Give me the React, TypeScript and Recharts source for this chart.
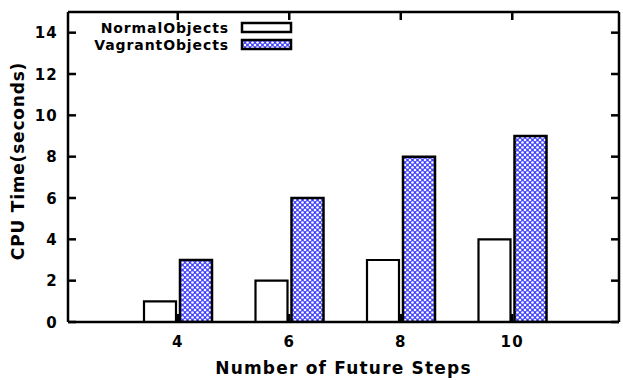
import React from 'react';
import { BarChart, Bar, XAxis, YAxis } from 'recharts';

// data
const steps = ['4', '6', '8', '10'];
const normalObjects = [1, 2, 3, 4];
const vagrantObjects = [3, 6, 8, 9];
const yTicks = [0, 2, 4, 6, 8, 10, 12, 14];

const data = steps.map((s, i) => ({
  step: s,
  normal: normalObjects[i],
  vagrant: vagrantObjects[i],
}));

const FONT = '"DejaVu Sans", Verdana, sans-serif';
const AXIS = { stroke: '#000', strokeWidth: 2.5 };
const TICK_LEN = 8;

const LeftTick = ({ x, y, payload }: any) => (
  <g>
    <line x1={x} x2={x + TICK_LEN} y1={y} y2={y} stroke="#000" strokeWidth={2.5} />
    <text x={x - 10} y={y} dy={5.5} textAnchor="end" fontFamily={FONT} fontWeight="bold" fontSize={15} letterSpacing={1.2} fill="#000">
      {payload.value}
    </text>
  </g>
);

const RightTick = ({ x, y }: any) => (
  <line x1={x} x2={x - TICK_LEN} y1={y} y2={y} stroke="#000" strokeWidth={2.5} />
);

const BottomTick = ({ x, y, payload }: any) => (
  <g>
    <line x1={x} x2={x} y1={y} y2={y - TICK_LEN} stroke="#000" strokeWidth={2.5} />
    <text x={x} y={y + 25} textAnchor="middle" fontFamily={FONT} fontWeight="bold" fontSize={15} letterSpacing={1.2} fill="#000">
      {payload.value}
    </text>
  </g>
);

const TopTick = ({ x, y }: any) => (
  <line x1={x} x2={x} y1={y} y2={y + TICK_LEN} stroke="#000" strokeWidth={2.5} />
);

const PatternDef = ({ id }: { id: string }) => (
  <pattern id={id} width={5} height={5} patternUnits="userSpaceOnUse">
    <rect width={5} height={5} fill="#4040ff" />
    <circle cx={0} cy={0} r={1.35} fill="#fff" />
    <circle cx={5} cy={0} r={1.35} fill="#fff" />
    <circle cx={0} cy={5} r={1.35} fill="#fff" />
    <circle cx={5} cy={5} r={1.35} fill="#fff" />
    <circle cx={2.5} cy={2.5} r={1.35} fill="#fff" />
  </pattern>
);

// legend and y title drawn over the chart
const Overlay = () => (
  <svg width={623} height={380} style={{ position: 'absolute', left: 0, top: 0, pointerEvents: 'none' }}>
    <defs>
      <PatternDef id="legendPattern" />
    </defs>
    <text x={229} y={33} textAnchor="end" fontFamily={FONT} fontWeight="bold" fontSize={14} letterSpacing={0.9}>
      NormalObjects
    </text>
    <rect x={242} y={23} width={49} height={9} fill="#fff" stroke="#000" strokeWidth={2.5} />
    <text x={229} y={50} textAnchor="end" fontFamily={FONT} fontWeight="bold" fontSize={14} letterSpacing={0.9}>
      VagrantObjects
    </text>
    <rect x={242} y={40} width={49} height={9} fill="url(#legendPattern)" stroke="#000" strokeWidth={2.5} />
    <text
      transform="translate(24,161) rotate(-90)"
      textAnchor="middle"
      fontFamily={FONT}
      fontWeight="bold"
      fontSize={17}
      letterSpacing={0.8}
    >
      CPU Time(seconds)
    </text>
  </svg>
);

export default function App() {
  return (
    <div style={{ position: 'absolute', left: 0, top: 0, width: 623, height: 380, background: '#fff' }}>
      <BarChart
        width={623}
        height={380}
        data={data}
        margin={{ top: 0, right: 0, bottom: 0, left: 0 }}
        barSize={32}
        barGap={4}
      >
        <defs>
          <PatternDef id="vagrantPattern" />
        </defs>
        <XAxis
          dataKey="step"
          xAxisId="bottom"
          height={58}
          padding={{ left: 54, right: 51 }}
          axisLine={AXIS}
          tickLine={false}
          tickSize={0}
          tickMargin={0}
          tick={<BottomTick />}
          label={{
            value: 'Number of Future Steps',
            position: 'insideBottom',
            offset: 6,
            style: { fontFamily: FONT, fontWeight: 'bold', fontSize: 17, letterSpacing: 1.2, fill: '#000' },
          }}
        />
        <XAxis
          dataKey="step"
          xAxisId="top"
          orientation="top"
          height={12}
          padding={{ left: 54, right: 51 }}
          axisLine={AXIS}
          tickLine={false}
          tickSize={0}
          tickMargin={0}
          tick={<TopTick />}
        />
        <YAxis
          yAxisId="left"
          width={68}
          domain={[0, 15]}
          ticks={yTicks}
          allowDataOverflow
          axisLine={AXIS}
          tickLine={false}
          tickSize={0}
          tickMargin={0}
          tick={<LeftTick />}
        />
        <YAxis
          yAxisId="right"
          orientation="right"
          width={4}
          domain={[0, 15]}
          ticks={yTicks}
          allowDataOverflow
          axisLine={AXIS}
          tickLine={false}
          tickSize={0}
          tickMargin={0}
          tick={<RightTick />}
        />
        <Bar
          dataKey="normal"
          xAxisId="bottom"
          yAxisId="left"
          fill="#fff"
          stroke="#000"
          strokeWidth={2.2}
          isAnimationActive={false}
        />
        <Bar
          dataKey="vagrant"
          xAxisId="bottom"
          yAxisId="left"
          fill="url(#vagrantPattern)"
          stroke="#000"
          strokeWidth={2.5}
          isAnimationActive={false}
        />
      </BarChart>
      <Overlay />
    </div>
  );
}
